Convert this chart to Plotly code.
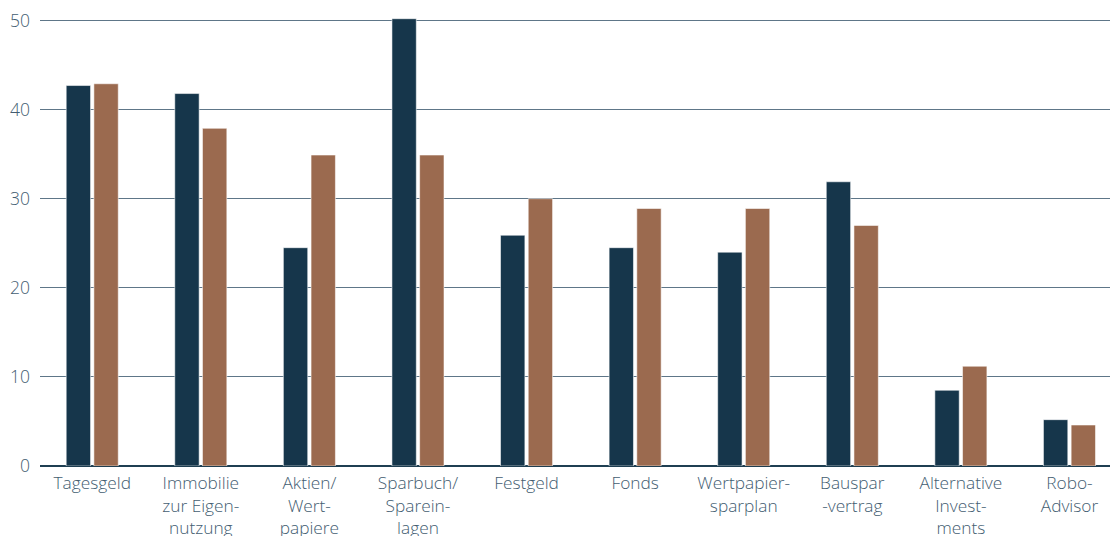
import plotly.graph_objects as go

categories = [
    "Tagesgeld",
    "Immobilie<br>zur Eigen-<br>nutzung",
    "Aktien/<br>Wert-<br>papiere",
    "Sparbuch/<br>Sparein-<br>lagen",
    "Festgeld",
    "Fonds",
    "Wertpapier-<br>sparplan",
    "Bauspar<br>-vertrag",
    "Alternative<br>Invest-<br>ments",
    "Robo-<br>Advisor",
]
series_a = [42.7, 41.8, 24.5, 50.2, 25.9, 24.5, 24.0, 31.9, 8.5, 5.2]
series_b = [42.9, 37.9, 34.9, 34.9, 30.0, 28.9, 28.9, 27.0, 11.2, 4.6]
y_ticks = [0, 10, 20, 30, 40, 50]

x_pos = list(range(len(categories)))

fig = go.Figure()
fig.add_trace(go.Bar(
    x=x_pos, y=series_a, name="Serie A",
    marker=dict(color="#16364B", line=dict(color="rgba(255,255,255,0.55)", width=1)),
))
fig.add_trace(go.Bar(
    x=x_pos, y=series_b, name="Serie B",
    marker=dict(color="#9B6A4F", line=dict(color="rgba(255,255,255,0.55)", width=1)),
))

font_color = "#435d71"
font_family = "Open Sans"
fig.update_layout(
    width=1110, height=528,
    margin=dict(l=32, r=0, t=10, b=70, autoexpand=False),
    paper_bgcolor="white", plot_bgcolor="white",
    showlegend=False,
    barmode="group", bargap=0.49, bargroupgap=0.12,
    font=dict(family=font_family, size=16, color=font_color, weight=300),
)
fig.update_xaxes(
    tickmode="array", tickvals=x_pos, ticktext=categories,
    range=[-0.481, 9.447], showgrid=False, zeroline=False,
    showline=False, ticks="", automargin=False, ticklabelstandoff=5,
    ticklabeloverflow="allow",
    tickfont=dict(family=font_family, size=17.3, color=font_color, weight=300),
)
fig.update_yaxes(
    range=[0, 50.28], tickvals=y_ticks, showgrid=True,
    gridcolor="#5e7688", gridwidth=1.3,
    zeroline=True, zerolinecolor="#1f3f52", zerolinewidth=1.6,
    showline=False, ticks="", ticklabelstandoff=9, automargin=False,
    ticklabeloverflow="allow",
    tickfont=dict(family=font_family, size=17.5, color=font_color, weight=300),
)

fig.write_html("out.html")
